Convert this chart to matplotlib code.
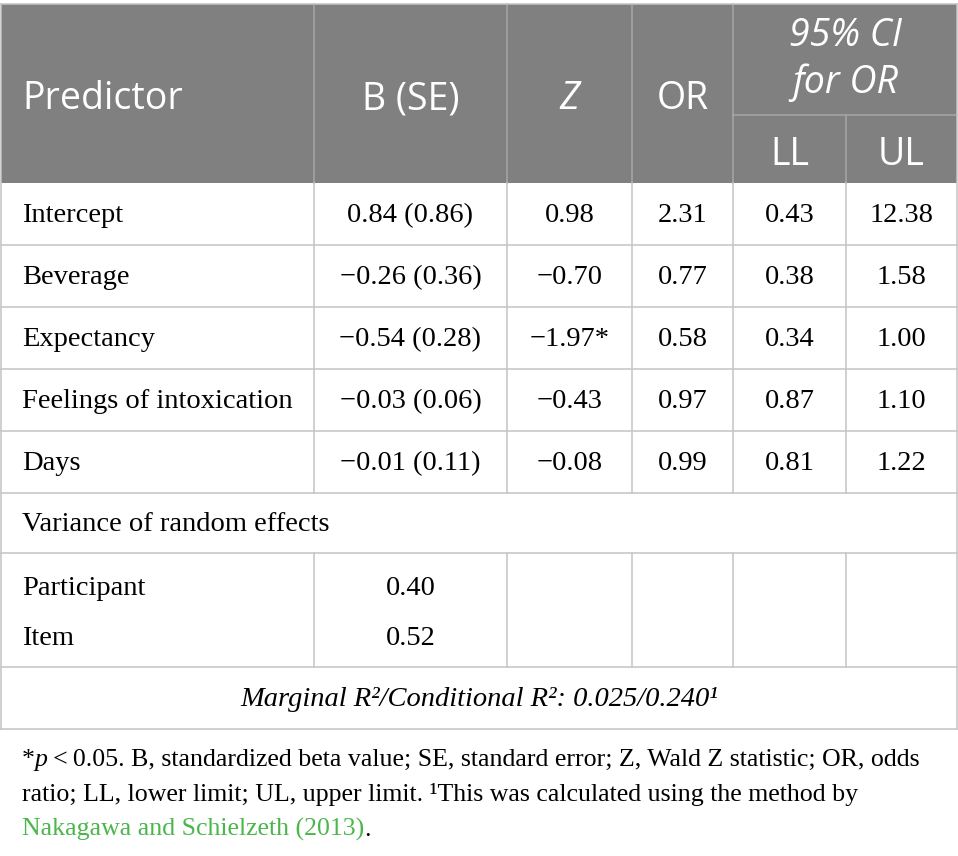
import matplotlib
matplotlib.use("Agg")
import matplotlib.pyplot as plt

# ---- data ----
header_cols = ["Predictor", "B (SE)", "Z", "OR"]
ci_header = ["95% CI", "for OR"]
ci_sub = ["LL", "UL"]
predictors = ["Intercept", "Beverage", "Expectancy", "Feelings of intoxication", "Days"]
b_se = ["0.84 (0.86)", "\u22120.26 (0.36)", "\u22120.54 (0.28)", "\u22120.03 (0.06)", "\u22120.01 (0.11)"]
z_vals = ["0.98", "\u22120.70", "\u22121.97*", "\u22120.43", "\u22120.08"]
or_vals = ["2.31", "0.77", "0.58", "0.97", "0.99"]
ll_vals = ["0.43", "0.38", "0.34", "0.87", "0.81"]
ul_vals = ["12.38", "1.58", "1.00", "1.10", "1.22"]
random_label = "Variance of random effects"
random_effects = ["Participant", "Item"]
variances = ["0.40", "0.52"]
r2_text = "Marginal R\u00b2/Conditional R\u00b2: 0.025/0.240\u00b9"

W, H = 958, 856
fig = plt.figure(figsize=(W / 100, H / 100), dpi=100)
ax = fig.add_axes([0, 0, 1, 1])
ax.set_xlim(0, W)
ax.set_ylim(H, 0)
ax.axis("off")

SANS = "Open Sans"
SERIF = "Liberation Serif"
HDR = "#808080"
GRID = "#c4c4c4"
HGRID = "#a6a6a6"
GREEN = "#4bb74b"

cols = [1, 314, 507, 632, 733, 846, 957]
top, sub_y, hdr_bot = 4, 115, 183
row_edges = [183, 245, 307, 369, 431, 493]
var_bot = 553
re_bot = 667
r2_bot = 729

# header background
ax.add_patch(plt.Rectangle((cols[0], top), cols[-1] - cols[0], hdr_bot - top,
                           facecolor=HDR, edgecolor="none", zorder=0))
lw = 1.1
for x in cols[1:4]:
    ax.plot([x, x], [top, hdr_bot], color=HGRID, lw=lw)
ax.plot([cols[4], cols[4]], [top, hdr_bot], color=HGRID, lw=lw)
ax.plot([cols[5], cols[5]], [sub_y, hdr_bot], color=HGRID, lw=lw)
ax.plot([cols[4], cols[6]], [sub_y, sub_y], color=HGRID, lw=lw)

# outer border
ax.plot([cols[0], cols[-1]], [top, top], color=GRID, lw=lw)
ax.plot([cols[0], cols[0]], [top, r2_bot], color=GRID, lw=lw)
ax.plot([cols[-1], cols[-1]], [top, r2_bot], color=GRID, lw=lw)
for y in row_edges[1:] + [var_bot, re_bot, r2_bot]:
    ax.plot([cols[0], cols[-1]], [y, y], color=GRID, lw=lw)
for x in cols[1:-1]:
    ax.plot([x, x], [hdr_bot, row_edges[-1]], color=GRID, lw=lw)
    ax.plot([x, x], [var_bot, re_bot], color=GRID, lw=lw)

# header text (baseline positioned)
hs = 27
hk = dict(color="white", fontsize=hs, family=SANS, va="baseline")
ax.text(22, 109, header_cols[0], ha="left", **hk)
ax.text((cols[1] + cols[2]) / 2, 109, header_cols[1], ha="center", **hk)
ax.text((cols[2] + cols[3]) / 2, 109, header_cols[2], ha="center", style="italic", **hk)
ax.text((cols[3] + cols[4]) / 2, 109, header_cols[3], ha="center", **hk)
ax.text((cols[4] + cols[6]) / 2, 46, ci_header[0], ha="center", style="italic", **hk)
ax.text((cols[4] + cols[6]) / 2, 93, ci_header[1], ha="center", style="italic", **hk)
ax.text((cols[4] + cols[5]) / 2, 165, ci_sub[0], ha="center", **hk)
ax.text((cols[5] + cols[6]) / 2, 165, ci_sub[1], ha="center", **hk)

# body text
bs = 20.5
bk = dict(fontsize=bs, family=SERIF, va="baseline")
off = 8
for i, name in enumerate(predictors):
    yb = (row_edges[i] + row_edges[i + 1]) / 2 + off
    ax.text(22, yb, name, ha="left", **bk)
    for j, vals in enumerate([b_se, z_vals, or_vals, ll_vals, ul_vals]):
        xc = (cols[j + 1] + cols[j + 2]) / 2
        ax.text(xc, yb, vals[i], ha="center", **bk)

ax.text(22, (row_edges[-1] + var_bot) / 2 + off, random_label, ha="left", **bk)
re_y = [587, 637]
for name, v, y in zip(random_effects, variances, re_y):
    ax.text(22, y + off, name, ha="left", **bk)
    ax.text((cols[1] + cols[2]) / 2, y + off, v, ha="center", **bk)

ax.text((cols[0] + cols[-1]) / 2, (re_bot + r2_bot) / 2 + off, r2_text,
        style="italic", ha="center", **bk)

# footnote with runs
fig.canvas.draw()
renderer = fig.canvas.get_renderer()

def runs(x, y, parts, size):
    for txt, style, color in parts:
        t = ax.text(x, y, txt, fontsize=size, family=SERIF, style=style, color=color,
                    va="baseline", ha="left")
        bb = t.get_window_extent(renderer=renderer)
        x += bb.width

fs = 18.6
runs(22, 766, [("*", "normal", "black"), ("p", "italic", "black"),
               ("\u2009<\u20090.05. B, standardized beta value; SE, standard error; Z, Wald Z statistic; OR, odds", "normal", "black")], fs)
runs(22, 801, [("ratio; LL, lower limit; UL, upper limit. \u00b9This was calculated using the method by", "normal", "black")], fs)
runs(22, 836, [("Nakagawa and Schielzeth (2013)", "normal", GREEN), (".", "normal", "black")], fs)

fig.savefig("out.png", dpi=100)
